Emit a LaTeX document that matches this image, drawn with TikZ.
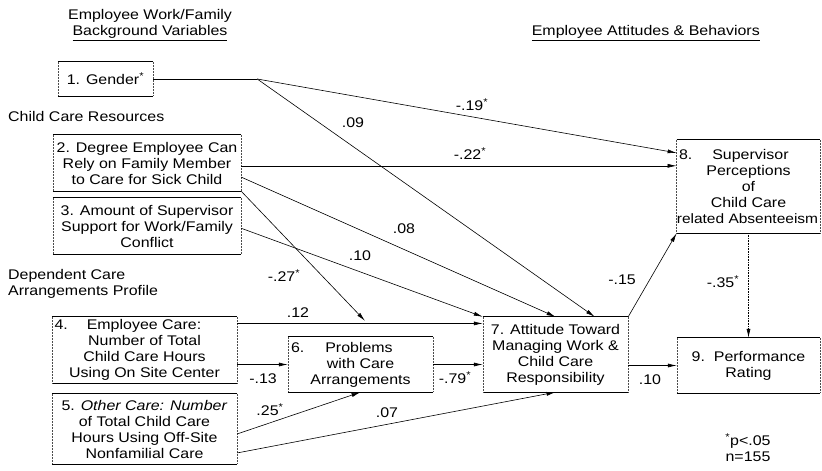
\documentclass[tikz,border=0pt]{standalone}
\usepackage{fontspec}
\setmainfont{Liberation Sans}[FakeStretch=1.14]
\usetikzlibrary{calc,arrows.meta}
\begin{document}
\begin{tikzpicture}[x=1pt,y=-1pt,
  font=\fontsize{14}{16}\selectfont,
  bx/.style={align=center,inner sep=0pt,draw=none},
  hd/.style={align=left,inner sep=0pt,anchor=west},
  lb/.style={inner sep=0pt},
  ar/.style={line width=0.6pt,-{Latex[length=9pt,width=4pt]}},
  ln/.style={line width=0.6pt},
  topline/.style={line width=0.8pt},
  sideline/.style={line width=0.5pt,densely dotted,black!70}]
\useasboundingbox (0,0) rectangle (822,471);

% headings
\node[lb,align=center] (h1) at (150,25) {Employee Work/Family\\\underline{Background Variables}};
\node[hd] (h2) at (8,116) {Child Care Resources};
\node[hd] (h3) at (8,284) {Dependent Care\\Arrangements Profile};
\node[lb,anchor=east] (h4) at (760,33) {\underline{Employee Attitudes \& Behaviors}};

% boxes
\node[bx,minimum width=95,minimum height=34] (b1) at (105.5,79) {1. Gender\textsuperscript{*}};
\node[bx,minimum width=188,minimum height=56] (b2) at (147,163) {2. Degree Employee Can\\Rely on Family Member\\to Care for Sick Child};
\node[bx,minimum width=188,minimum height=56] (b3) at (147,226) {3. Amount of Supervisor\\Support for Work/Family\\Conflict};
\node[bx,minimum width=185,minimum height=66] (b4) at (144.5,350) {\makebox[180pt][l]{4.\hspace{19pt}Employee Care:}\\Number of Total\\Child Care Hours\\Using On Site Center};
\node[bx,minimum width=185,minimum height=70] (b5) at (144.5,429) {5. \textit{Other Care: Number}\\of Total Child Care\\Hours Using Off-Site\\Nonfamilial Care};
\node[bx,minimum width=145,minimum height=55] (b6) at (360.5,364.5) {\makebox[139pt][l]{6.\hspace{21pt}Problems}\\with Care\\Arrangements};
\node[bx,minimum width=145,minimum height=75] (b7) at (555.5,354.5) {7. Attitude Toward\\Managing Work \&\\Child Care\\Responsibility};
\node[bx,minimum width=143,minimum height=93] (b8) at (748.5,186.5) {\makebox[139pt][l]{8.\hspace{20pt}Supervisor}\\Perceptions\\of\\Child Care\\{\fontsize{13.6}{16}\selectfont related Absenteeism\kern2pt}};
\node[bx,minimum width=143,minimum height=55] (b9) at (748.5,365.5) {9.\ \ Performance\\Rating};

\foreach \n in {b1,b2,b3,b4,b5,b6,b7,b8,b9}{
  \draw[topline] (\n.north west) -- (\n.north east);
  \draw[topline] (\n.south west) -- (\n.south east);
  \draw[sideline] (\n.north west) -- (\n.south west);
  \draw[sideline] (\n.north east) -- (\n.south east);
}

% connectors
\coordinate (c1) at ($(b1.east)+(104,0)$);
\draw[ln] (b1.east) -- (c1);
\draw[ar] (c1) -- ($(b8.north west)!0.14!(b8.south west)$);
\draw[ar] (c1) -- ($(b7.north west)!0.77!(b7.north east)$);
\coordinate (s22) at ($(b2.north east)!0.55!(b2.south east)$);
\draw[ar] (s22) -- (s22 -| b8.west);
\draw[ar] ($(b2.north east)!0.75!(b2.south east)$) -- (b7.north);
\coordinate (t27) at ($(b6.north)+(4.5,-16)$);
\draw[ar] (b2.south east) -- (t27);
\draw[ar] ($(b3.north east)!0.54!(b3.south east)$) -- (b7.north west);
\coordinate (s12) at ($(b4.north east)!0.1!(b4.south east)$);
\draw[ar] (s12) -- (s12 -| b7.west);
\draw[ar] (b4.east |- b6.west) -- (b6.west);
\draw[ar] ($(b5.north east)!0.57!(b5.south east)$) -- (b6.south);
\draw[ar] ($(b5.north east)!0.84!(b5.south east)$) -- (b7.south);
\draw[ar] (b6.east) -- (b6.east -| b7.west);
\draw[ar] (b7.east |- b9.west) -- (b9.west);
\draw[ar] (b7.north east) -- (b8.south west);
\draw[ar,densely dotted] (b8.south) -- (b9.north);

% path labels
\node[lb] (l19) at (472,105) {-.19\textsuperscript{*}};
\node[lb] (l09) at (353,123) {.09};
\node[lb] (l22) at (470,154) {-.22\textsuperscript{*}};
\node[lb] (l08) at (404,229) {.08};
\node[lb] (l10a) at (360,256) {.10};
\node[lb] (l27) at (284,276) {-.27\textsuperscript{*}};
\node[lb] (l12) at (298,313) {.12};
\node[lb] (l13) at (263,379) {-.13};
\node[lb] (l25) at (270,410) {.25\textsuperscript{*}};
\node[lb] (l07) at (387,413) {.07};
\node[lb] (l79) at (455,378) {-.79\textsuperscript{*}};
\node[lb] (l15) at (622,280) {-.15};
\node[lb] (l35) at (723,282) {-.35\textsuperscript{*}};
\node[lb] (l10b) at (650,380) {.10};
\node[lb,align=center] (note) at (748,448) {\textsuperscript{*}p<.05\\n=155};
\end{tikzpicture}
\end{document}
